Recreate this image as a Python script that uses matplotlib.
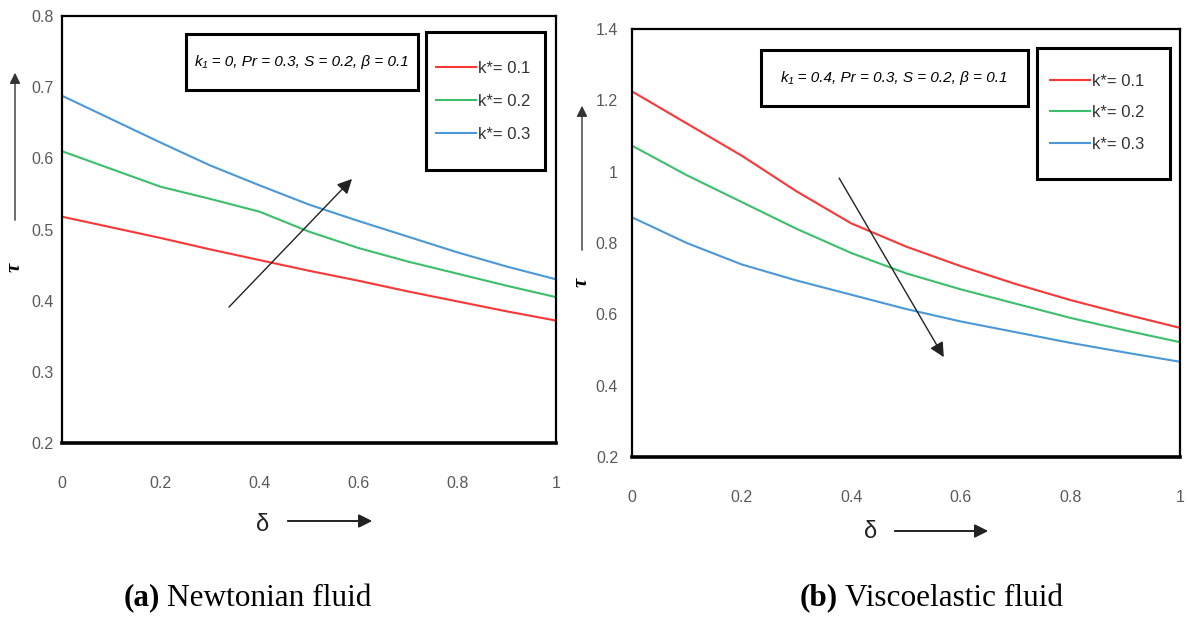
import matplotlib
matplotlib.use("Agg")
import matplotlib.pyplot as plt
from matplotlib.patches import Rectangle, FancyArrowPatch

# ---------------- data ----------------
delta = [0.0, 0.1, 0.2, 0.3, 0.4, 0.5, 0.6, 0.7, 0.8, 0.9, 1.0]

# (a) Newtonian fluid
a_k01 = [0.518, 0.503, 0.488, 0.472, 0.457, 0.442, 0.428, 0.413, 0.399, 0.385, 0.372]
a_k02 = [0.610, 0.585, 0.560, 0.543, 0.525, 0.497, 0.474, 0.455, 0.438, 0.421, 0.405]
a_k03 = [0.688, 0.655, 0.622, 0.590, 0.562, 0.535, 0.512, 0.490, 0.468, 0.448, 0.430]

# (b) Viscoelastic fluid
b_k01 = [1.225, 1.135, 1.045, 0.945, 0.855, 0.790, 0.735, 0.685, 0.640, 0.600, 0.562]
b_k02 = [1.073, 0.990, 0.915, 0.840, 0.772, 0.715, 0.670, 0.630, 0.590, 0.555, 0.522]
b_k03 = [0.872, 0.800, 0.740, 0.695, 0.655, 0.615, 0.580, 0.550, 0.520, 0.493, 0.467]

labels = ["k*= 0.1", "k*= 0.2", "k*= 0.3"]
colors = ["#FF3636", "#3CBF6A", "#4A98D8"]
xticks = [0, 0.2, 0.4, 0.6, 0.8, 1]
xticklabels = ["0", "0.2", "0.4", "0.6", "0.8", "1"]
a_yticks = [0.2, 0.3, 0.4, 0.5, 0.6, 0.7, 0.8]
b_yticks = [0.2, 0.4, 0.6, 0.8, 1.0, 1.2, 1.4]
b_yticklabels = ["0.2", "0.4", "0.6", "0.8", "1", "1.2", "1.4"]
param_a = "k\u2081 = 0, Pr = 0.3, S = 0.2, \u03b2 = 0.1"
param_b = "k\u2081 = 0.4, Pr = 0.3, S = 0.2, \u03b2 = 0.1"

SANS = ["Liberation Sans", "DejaVu Sans"]
SERIF = ["Liberation Serif", "DejaVu Serif"]

fig = plt.figure(figsize=(11.89, 6.17), dpi=100)

W, H = 1189.0, 617.0
def fx(px):
    return px / W
def fy(py):
    return 1 - py / H

axA = fig.add_axes([fx(62), fy(443), (556 - 62) / W, (443 - 16) / H])
axB = fig.add_axes([fx(632), fy(457), (1180 - 632) / W, (457 - 29) / H])


def style(ax, ylim, yticks, yticklabels, ypad):
    ax.set_xlim(0, 1)
    ax.set_ylim(*ylim)
    ax.set_xticks(xticks)
    ax.set_xticklabels(xticklabels)
    ax.set_yticks(yticks)
    if yticklabels is not None:
        ax.set_yticklabels(yticklabels)
    ax.tick_params(length=0, labelcolor="#595959")
    ax.tick_params(axis="x", pad=24)
    ax.tick_params(axis="y", pad=ypad)
    for lab in ax.get_xticklabels() + ax.get_yticklabels():
        lab.set_family(SANS)
        lab.set_fontsize(11.5)
    for s in ["left", "right", "top"]:
        ax.spines[s].set_linewidth(1.6)
        ax.spines[s].set_color("black")
    ax.spines["bottom"].set_linewidth(2.6)
    ax.spines["bottom"].set_color("black")


def panel(ax, series, param, pbox, lbox, lanchor, lspacing, arrow):
    lines = []
    for ys, c, lab in zip(series, colors, labels):
        ln, = ax.plot(delta, ys, color=c, lw=1.5, label=lab)
        lines.append(ln)
    # parameter box
    x0, y0, x1, y1 = pbox
    ax.add_patch(Rectangle((x0, y0), x1 - x0, y1 - y0, transform=ax.transAxes,
                           fill=False, ec="black", lw=2.2, zorder=5))
    ax.text((x0 + x1) / 2, (y0 + y1) / 2, param, transform=ax.transAxes,
            ha="center", va="center", fontsize=11, style="italic",
            family=SANS, color="black", zorder=6)
    # legend frame
    x0, y0, x1, y1 = lbox
    ax.add_patch(Rectangle((x0, y0), x1 - x0, y1 - y0, transform=ax.transAxes,
                           fill=False, ec="black", lw=2.2, zorder=5))
    leg = ax.legend(handles=lines, loc="upper left", bbox_to_anchor=lanchor,
                    frameon=False, borderpad=0, borderaxespad=0,
                    handlelength=2.4, handletextpad=0.15, labelspacing=lspacing,
                    prop={"family": SANS, "size": 12})
    for t in leg.get_texts():
        t.set_color("#333333")
    # trend arrow
    (sx, sy), (ex, ey) = arrow
    ax.annotate("", xy=(ex, ey), xytext=(sx, sy),
                arrowprops=dict(arrowstyle="-|>", color="#222222", lw=1.0,
                                mutation_scale=22, shrinkA=0, shrinkB=0))


style(axA, (0.2, 0.8), a_yticks, None, 6)
style(axB, (0.2, 1.4), b_yticks, b_yticklabels, 10)

panel(axA, [a_k01, a_k02, a_k03], param_a,
      (0.251, 0.827, 0.721, 0.958), (0.737, 0.639, 0.978, 0.9625),
      (0.757, 0.895), 1.07, ((0.338, 0.391), (0.587, 0.571)))
panel(axB, [b_k01, b_k02, b_k03], param_b,
      (0.235, 0.820, 0.723, 0.951), (0.739, 0.650, 0.982, 0.956),
      (0.762, 0.895), 0.98, ((0.378, 0.982), (0.569, 0.480)))

# y-axis labels: tau with upward arrow
for xpx, ybot, ytop, ytau in [(15, 223, 70, 267), (582, 253, 103, 282)]:
    fig.patches.append(FancyArrowPatch(
        (fx(xpx), fy(ybot)), (fx(xpx), fy(ytop)), transform=fig.transFigure,
        arrowstyle="-|>", mutation_scale=16, color="#333333", lw=1.0))
    fig.text(fx(xpx), fy(ytau), "\u03c4", rotation=90, ha="center", va="center",
             fontsize=15, family=SERIF, weight="bold", style="italic")

# x-axis labels: delta with rightward arrow
for xd, yd, xa0, xa1, ya in [(263, 525, 285, 375, 521), (871, 532, 892, 991, 531)]:
    fig.text(fx(xd), fy(yd), "\u03b4", ha="center", va="center",
             fontsize=17, family=SANS, color="#222222")
    fig.patches.append(FancyArrowPatch(
        (fx(xa0), fy(ya)), (fx(xa1), fy(ya)), transform=fig.transFigure,
        arrowstyle="-|>", mutation_scale=20, color="#222222", lw=1.4))

# captions
for xb, xt, tag, name in [(160, 167, "(a)", "Newtonian fluid"),
                          (838, 845, "(b)", "Viscoelastic fluid")]:
    fig.text(fx(xb), fy(598), tag, ha="right", va="center", fontsize=22.5,
             family=SERIF, weight="bold")
    fig.text(fx(xt), fy(598), name, ha="left", va="center", fontsize=22.5,
             family=SERIF)

fig.savefig("out.png", dpi=100)
